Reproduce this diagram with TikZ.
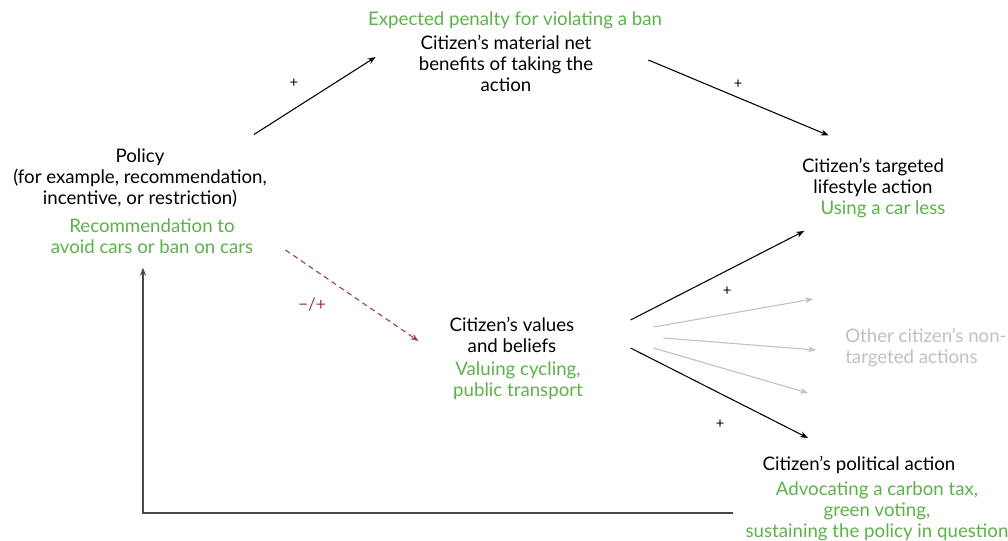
\documentclass[tikz,border=0pt]{standalone}
\usepackage{fontspec}
\setmainfont{Lato}
\usetikzlibrary{arrows.meta, positioning}
\definecolor{ExampleColor}{RGB}{92,178,72}
\definecolor{ValueColor}{RGB}{158,52,98}
\definecolor{FaintColor}{RGB}{192,192,192}
\definecolor{LoopColor}{RGB}{72,72,72}
\tikzstyle{concept} = [align=center, inner sep=0pt, font=\fontsize{14}{15.75}\selectfont]
\tikzstyle{example} = [concept, text=ExampleColor]
\tikzstyle{faint} = [concept, text=FaintColor, align=left]
\tikzstyle{signmark} = [inner sep=0pt, font=\fontsize{11}{12}\selectfont]
\tikzstyle{causal} = [line width=0.8pt, -{Stealth[length=6pt,width=4.5pt]}]
\tikzstyle{sidearrow} = [line width=0.8pt, FaintColor, -{Stealth[length=6pt,width=4.5pt]}]
\tikzstyle{shiftarrow} = [line width=0.8pt, ValueColor, dashed, dash pattern=on 4pt off 3pt, -{Stealth[length=6pt,width=4.5pt]}]
\tikzstyle{feedback} = [line width=1pt, LoopColor, -{Stealth[length=6pt,width=4.5pt]}]

\begin{document}
\begin{tikzpicture}[x=0.75pt, y=-0.75pt]
    \useasboundingbox (0,0) rectangle (1008,540);

    % Policy and its example
    \node[concept] (policy) at (140,178) {Policy\\(for example, recommendation,\\incentive, or restriction)};
    \node[example] (policyex) at (152,236) {Recommendation to\\avoid cars or ban on cars};

    % Material benefits
    \node[example] (penalty) at (515,20) {Expected penalty for violating a ban};
    \node[concept] (benefits) at (506,63) {Citizen’s material net\\benefits of taking the\\action};

    % Values and beliefs
    \node[concept] (values) at (512,335) {Citizen’s values\\and beliefs};
    \node[example] (valuesex) at (518,381) {Valuing cycling,\\public transport};

    % Targeted action
    \node[concept] (lifestyle) at (873,177) {Citizen’s targeted\\lifestyle action};
    \node[example] (lifestyleex) at (883,209) {Using a car less};

    % Other actions
    \node[faint, anchor=west] (other) at (845,348) {Other citizen’s non-\\targeted actions};

    % Political action
    \node[concept] (political) at (859,465) {Citizen’s political action};
    \node[example] (politicalex) at (877,511) {Advocating a carbon tax,\\green voting,\\sustaining the policy in question};

    % Causal links
    \draw[causal] ([shift={(-13,-14)}]policy.north east) -- ([shift={(-43,-6)}]benefits.west);
    \node[signmark] (s1) at (294,83) {+};
    \draw[causal] ([shift={(55,-3)}]benefits.east) -- ([shift={(27,-22)}]lifestyle.north west);
    \node[signmark] (s2) at (738,84) {+};
    \draw[shiftarrow] ([shift={(32,14)}]policyex.east) -- ([shift={(-31,6)}]values.west);
    \node[signmark, text=ValueColor, font=\fontsize{13}{14}\selectfont] (s3) at (312,305) {−/+};
    \draw[causal] ([shift={(56,-15)}]values.east) -- ([shift={(-16,22)}]lifestyleex.west);
    \node[signmark] (s4) at (727,291) {+};
    \draw[causal] ([shift={(56,13)}]values.east) -- ([shift={(-51,-18)}]political.north);
    \node[signmark] (s5) at (720,424) {+};

    % Side effects
    \draw[sidearrow] ([shift={(79,-8)}]values.east) -- ([shift={(-32,-49)}]other.west);
    \draw[sidearrow] ([shift={(89,3)}]values.east) -- ([shift={(-29,2)}]other.west);
    \draw[sidearrow] ([shift={(79,13)}]values.east) -- ([shift={(-37,45)}]other.west);

    % Feedback to policy
    \draw[feedback] ([shift={(-12,2)}]politicalex.west) -| ([shift={(-9,14)}]policyex.south);
\end{tikzpicture}
\end{document}
